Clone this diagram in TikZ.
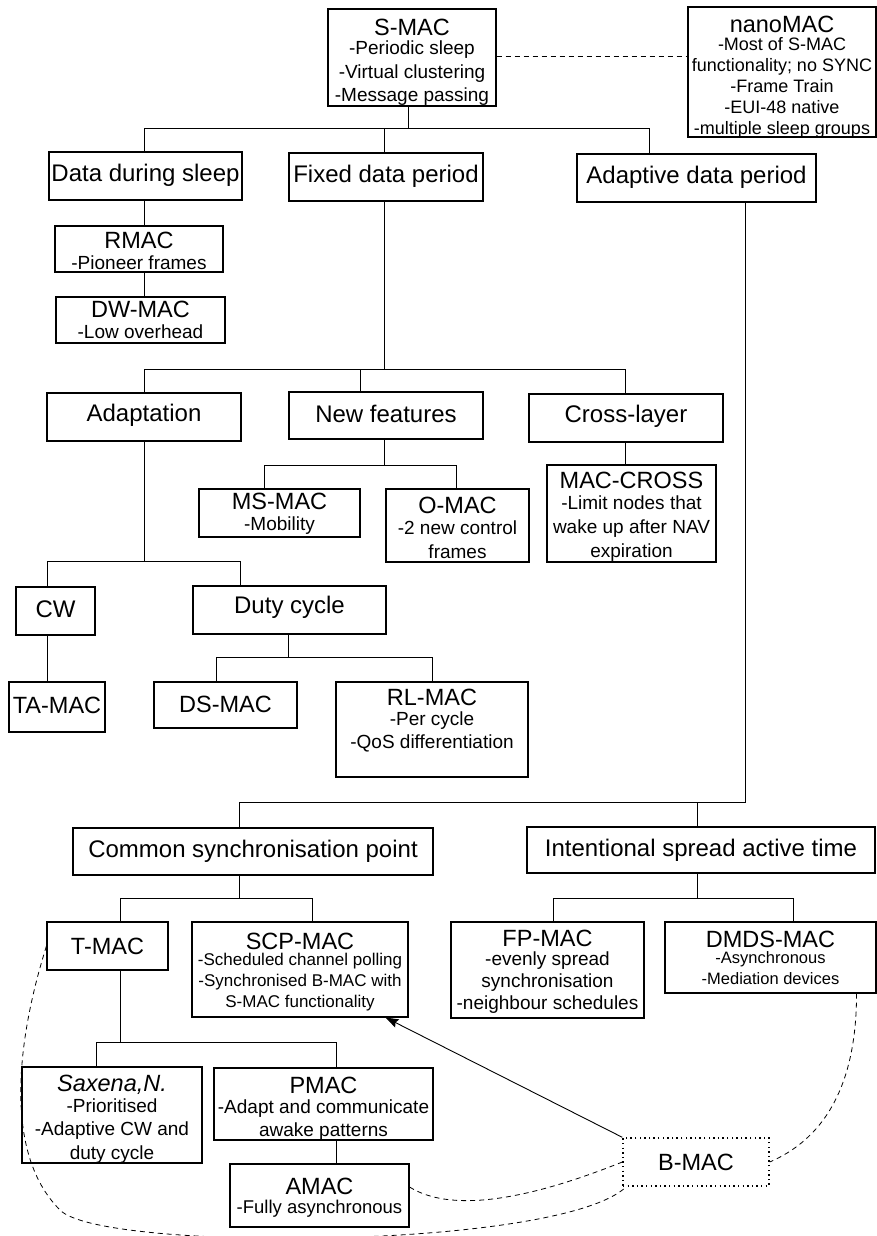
\documentclass[tikz,border=0pt]{standalone}
\usepackage{fontspec}
\setmainfont{Liberation Sans}
\usetikzlibrary{arrows.meta}

\newcommand\fs[2]{\fontsize{#1}{#2}\selectfont}
% first (larger) line of a protocol box
\newcommand\hd[2][-2.5pt]{{\fs{23.5}{26}#2}\\[#1]}

\tikzset{
  box/.style={draw=black, line width=1.1pt, inner sep=0pt},
  txt/.style={inner sep=0pt, align=center, font=\fs{19}{23.5}},
  cat/.style={font=\fs{24}{28}},
  link/.style={draw=black, line width=0.9pt},
  dashlink/.style={draw=black, line width=0.8pt, dash pattern=on 5pt off 4pt},
}

% box given by its corners (x1,y1),(x2,y2); #7 lowers the text, #1 styles the text
\newcommand\bx[8][]{\node[box,minimum width={(#5-#3)*1pt},minimum height={(#6-#4)*1pt},
  label={[txt,#1,yshift={-(#7)*1pt}]center:{#8}}] (#2) at ({(#3+#5)/2},{(#4+#6)/2}) {};}

\begin{document}
\begin{tikzpicture}[x=1pt,y=-1pt]
\useasboundingbox (0,0) rectangle (877,1236);

% ---- boxes ----
\bx{smac}{328}{9}{496}{106}{5}{\hd[-4pt]{S-MAC}-Periodic sleep\\-Virtual clustering\\-Message passing}
\bx[font=\fs{18}{21}]{nano}{688}{7}{876}{137}{5}{\hd[-3pt]{nanoMAC}-Most of S-MAC\\functionality; no SYNC\\-Frame Train\\-EUI-48 native\\-multiple sleep groups}

\bx[cat]{dds}{49}{152}{242}{200}{-1}{Data during sleep}
\bx[cat]{fdp}{289}{153}{483}{201}{-1}{Fixed data period}
\bx[cat]{adp}{577}{154}{816}{202}{-1}{Adaptive data period}

\bx{rmac}{55}{226}{223}{272}{2}{\hd{RMAC}-Pioneer frames}
\bx{dwmac}{56}{297}{225}{343}{0}{\hd{DW-MAC}-Low overhead}

\bx[cat]{adapt}{47}{393}{241}{441}{-2}{Adaptation}
\bx[cat]{newf}{289}{392}{483}{439}{-2}{New features}
\bx[cat]{cross}{529}{394}{723}{442}{-2}{Cross-layer}

\bx{msmac}{199}{489}{360}{537}{1}{\hd{MS-MAC}-Mobility}
\bx[font=\fs{19}{24}]{omac}{386}{489}{529}{562}{2.5}{\hd{O-MAC}-2 new control\\frames}
\bx[font=\fs{19}{24}]{mcross}{547}{465}{716}{562}{3.5}{\hd{MAC-CROSS}-Limit nodes that\\wake up after NAV\\expiration}

\bx[cat]{cw}{16}{587}{95}{635}{-2}{CW}
\bx[cat]{duty}{193}{586}{386}{634}{-3}{Duty cycle}

\bx[font=\fs{23.5}{26}]{tamac}{9}{682}{105}{732}{-2}{TA-MAC}
\bx[font=\fs{23.5}{26}]{dsmac}{154}{682}{297}{728}{-1}{DS-MAC}
\bx[font=\fs{19}{22.5}]{rlmac}{336}{682}{528}{777}{-9}{\hd{RL-MAC}-Per cycle\\-QoS differentiation}

\bx[cat]{csp}{73}{828}{433}{875}{0}{Common synchronisation point}
\bx[cat]{isa}{527}{827}{875}{873}{0}{Intentional spread active time}

\bx[font=\fs{23.5}{26}]{tmac}{47}{922}{168}{970}{0}{T-MAC}
\bx[font=\fs{17}{21}]{scp}{192}{922}{408}{1017}{3}{\hd[-5pt]{SCP-MAC}-Scheduled channel polling\\-Synchronised B-MAC with\\S-MAC functionality}
\bx[font=\fs{19}{22}]{fpmac}{451}{922}{644}{1018}{2}{\hd{FP-MAC}-evenly spread\\synchronisation\\-neighbour schedules}
\bx[font=\fs{16.5}{21}]{dmds}{665}{922}{876}{993}{0}{\hd[-5pt]{DMDS-MAC}-Asynchronous\\-Mediation devices}

\bx{sax}{22}{1067}{202}{1163}{4}{\hd{\itshape Saxena,N.}-Prioritised\\-Adaptive CW and\\duty cycle}
\bx[font=\fs{19}{22.5}]{pmac}{214}{1068}{433}{1140}{5}{\hd{PMAC}-Adapt and communicate\\awake patterns}
\bx[font=\fs{18.5}{21}]{amac}{230}{1164}{409}{1227}{2}{\hd[-2pt]{AMAC}-Fully asynchronous}

\node[box, line width=1.4pt, dash pattern=on 1.4pt off 3.2pt, minimum width=146pt, minimum height=48pt,
  font=\fs{23.5}{26}] (bmac) at (696,1162) {B-MAC};

% ---- tree connectors ----
\draw[link] ([xshift=-4pt]smac.south) -- ++(0,22) -| ([xshift=-1.5pt]dds.north);
\draw[link] ([xshift=-4pt]smac.south) -- ++(0,22) -| ([xshift=-2pt]fdp.north);
\draw[link] ([xshift=-4pt]smac.south) -- ++(0,22) -| ([xshift=-47.5pt]adp.north);

\draw[link] ([xshift=-1.5pt]dds.south) -- ([xshift=5pt]rmac.north);
\draw[link] ([xshift=5pt]rmac.south) -- ([xshift=3.5pt]dwmac.north);

\draw[link] ([xshift=-2pt]fdp.south) -- ++(0,168) -| (adapt.north);
\draw[link] ([xshift=-2pt]fdp.south) -- ++(0,168) -| ([xshift=-26pt]newf.north);
\draw[link] ([xshift=-2pt]fdp.south) -- ++(0,168) -| ([xshift=-1pt]cross.north);

\draw[link] ([xshift=-2pt]newf.south) -- ++(0,26) -| ([xshift=-15.5pt]msmac.north);
\draw[link] ([xshift=-2pt]newf.south) -- ++(0,26) -| ([xshift=-1.5pt]omac.north);
\draw[link] ([xshift=-1pt]cross.south) -- ([xshift=-6.5pt]mcross.north);

\draw[link] (adapt.south) -- ++(0,120) -| ([xshift=-8.5pt]cw.north);
\draw[link] (adapt.south) -- ++(0,120) -| ([xshift=-49.5pt]duty.north);
\draw[link] ([xshift=-8.5pt]cw.south) -- ([xshift=-10pt]tamac.north);
\draw[link] ([xshift=-1.5pt]duty.south) -- ++(0,23) -| ([xshift=-9.5pt]dsmac.north);
\draw[link] ([xshift=-1.5pt]duty.south) -- ++(0,23) -| (rlmac.north);

\draw[link] ([xshift=48.5pt]adp.south) -- ++(0,600) -| ([xshift=-14pt]csp.north);
\draw[link] ([xshift=48.5pt]adp.south) -- ++(0,600) -| ([xshift=-4pt]isa.north);

\draw[link] ([xshift=-14pt]csp.south) -- ++(0,23) -| ([xshift=12.5pt]tmac.north);
\draw[link] ([xshift=-14pt]csp.south) -- ++(0,23) -| ([xshift=12pt]scp.north);
\draw[link] ([xshift=-4pt]isa.south) -- ++(0,25) -| ([xshift=5.5pt]fpmac.north);
\draw[link] ([xshift=-4pt]isa.south) -- ++(0,25) -| ([xshift=22.5pt]dmds.north);

\draw[link] ([xshift=12.5pt]tmac.south) -- ++(0,72) -| ([xshift=-16pt]sax.north);
\draw[link] ([xshift=12.5pt]tmac.south) -- ++(0,72) -| ([xshift=12.5pt]pmac.north);
\draw[link] ([xshift=12.5pt]pmac.south) -- ([xshift=16.5pt]amac.north);

% ---- relations ----
\draw[dashlink] ([yshift=1.5pt]smac.east) -- ([yshift=16pt]nano.west);
\draw[link, -{Stealth[length=13pt,width=9pt,inset=2pt]}] (bmac.north west) -- ([xshift=-23pt]scp.south east);
\draw[dashlink] ([yshift=8.5pt]amac.east) .. controls +(40,25) and +(-100,40) .. (bmac.west);
\draw[dashlink] (tmac.west) .. controls (20,1030) and (0,1150) .. (60,1210)
  .. controls (100,1252) and (560,1250) .. ([xshift=4pt]bmac.south west);
\draw[dashlink] ([xshift=-20pt]dmds.south east) .. controls +(0,97) and +(51,-22) .. (bmac.east);
\end{tikzpicture}
\end{document}
